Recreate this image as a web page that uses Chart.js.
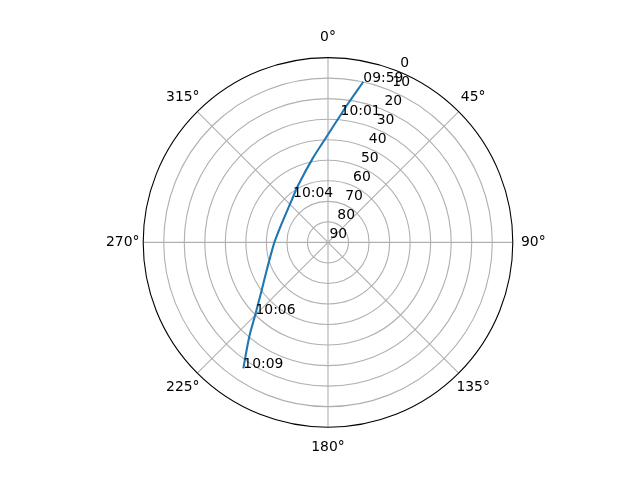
<!DOCTYPE html>
<html>
<head>
<meta charset="utf-8">
<script src="https://cdn.jsdelivr.net/npm/chart.js@4/dist/chart.umd.min.js"></script>
<style>
  html, body { margin: 0; padding: 0; background: #ffffff; }
  #wrap { width: 640px; height: 480px; }
</style>
</head>
<body>
<div id="wrap"><canvas id="c" width="640" height="480"></canvas></div>
<script>
// Track: azimuth (deg, clockwise from north) and elevation (deg)
const trackAz = [12.4, 7.9, 5.65, 2.97, 359.13, 349.69, 332.64, 322.4, 294.5, 269.7, 245.8, 233.5, 225.4, 220.6, 217.1, 213.9];
const trackEl = [9.9, 22.45, 27.65, 32.75, 38.67, 48.4, 58.5, 62.1, 65.65, 63.85, 57.3, 49.6, 40.4, 31.7, 24.3, 16.1];

// Time annotations
const labelTimes = ['09:59', '10:01', '10:04', '10:06', '10:09'];
const labelAz = [12.4, 5.65, 322.4, 225.4, 213.9];
const labelEl = [9.9, 27.65, 62.1, 40.4, 16.1];

// Tick labels
const rTicks = [0, 10, 20, 30, 40, 50, 60, 70, 80, 90];
const thetaTicks = [0, 45, 90, 135, 180, 225, 270, 315];

const toXY = (az, el) => ({
  x: (90 - el) * Math.sin(az * Math.PI / 180),
  y: (90 - el) * Math.cos(az * Math.PI / 180)
});

const trackPoints = trackAz.map((a, i) => toXY(a, trackEl[i]));

const FONT = '13.9px "DejaVu Sans", sans-serif';

const polarPlugin = {
  id: 'polarGrid',
  beforeDatasetsDraw(chart) {
    const { ctx, scales: { x, y } } = chart;
    const cx = x.getPixelForValue(0), cy = y.getPixelForValue(0);
    const R = x.getPixelForValue(90) - cx;
    ctx.save();
    ctx.fillStyle = '#ffffff';
    ctx.beginPath(); ctx.arc(cx, cy, R, 0, Math.PI * 2); ctx.fill();
    ctx.strokeStyle = '#b0b0b0';
    ctx.lineWidth = 1.1;
    rTicks.forEach(el => {
      if (el <= 0 || el >= 90) return;
      const r = x.getPixelForValue(90 - el) - cx;
      ctx.beginPath(); ctx.arc(cx, cy, r, 0, Math.PI * 2); ctx.stroke();
    });
    thetaTicks.forEach(t => {
      const a = t * Math.PI / 180;
      ctx.beginPath();
      ctx.moveTo(cx, cy);
      ctx.lineTo(cx + R * Math.sin(a), cy - R * Math.cos(a));
      ctx.stroke();
    });
    ctx.restore();
  },
  afterDatasetsDraw(chart) {
    const { ctx, scales: { x, y } } = chart;
    const cx = x.getPixelForValue(0), cy = y.getPixelForValue(0);
    const R = x.getPixelForValue(90) - cx;
    ctx.save();
    // spine
    ctx.strokeStyle = '#000000';
    ctx.lineWidth = 1.1;
    ctx.beginPath(); ctx.arc(cx, cy, R, 0, Math.PI * 2); ctx.stroke();
    ctx.fillStyle = '#000000';
    ctx.font = FONT;
    // theta labels
    ctx.textAlign = 'center';
    ctx.textBaseline = 'middle';
    thetaTicks.forEach(t => {
      const a = t * Math.PI / 180;
      const rr = R + 20.5;
      ctx.fillText(t + '°', cx + rr * Math.sin(a), cy - rr * Math.cos(a));
    });
    // radial labels at 22.5 deg
    ctx.textAlign = 'left';
    ctx.textBaseline = 'bottom';
    const la = 22.5 * Math.PI / 180;
    rTicks.forEach(el => {
      const r = x.getPixelForValue(90 - el) - cx;
      ctx.fillText(String(el), cx + r * Math.sin(la) + 1.5, cy - r * Math.cos(la) - 1);
    });
    // time annotations
    ctx.textBaseline = 'alphabetic';
    labelTimes.forEach((txt, i) => {
      const p = toXY(labelAz[i], labelEl[i]);
      ctx.fillText(txt, x.getPixelForValue(p.x), y.getPixelForValue(p.y));
    });
    ctx.restore();
  }
};

new Chart(document.getElementById('c'), {
  type: 'scatter',
  data: {
    datasets: [{
      data: trackPoints,
      showLine: true,
      borderColor: '#1f77b4',
      borderWidth: 2.1,
      pointRadius: 0,
      tension: 0.2,
      fill: false
    }]
  },
  options: {
    responsive: false,
    devicePixelRatio: 1,
    animation: false,
    layout: { padding: { left: 143.2, right: 127.2, top: 57.6, bottom: 52.8 } },
    plugins: { legend: { display: false }, tooltip: { enabled: false } },
    scales: {
      x: { type: 'linear', min: -90, max: 90, display: false },
      y: { type: 'linear', min: -90, max: 90, display: false }
    }
  },
  plugins: [polarPlugin]
});
</script>
</body>
</html>
